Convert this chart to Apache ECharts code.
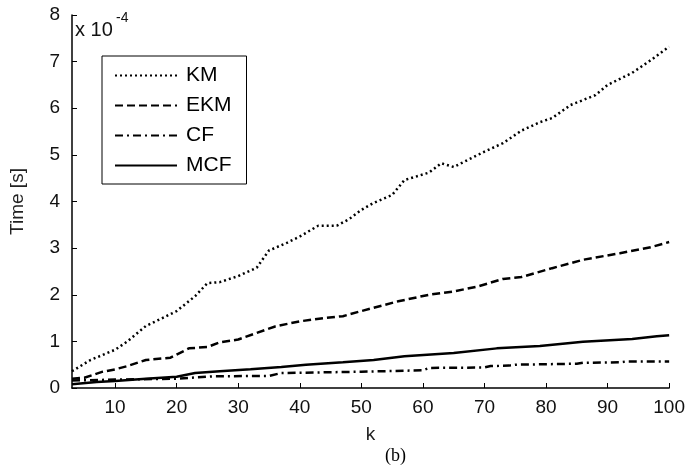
<!DOCTYPE html>
<html>
<head>
<meta charset="utf-8">
<script src="https://cdn.jsdelivr.net/npm/echarts@6/dist/echarts.min.js"></script>
<style>
  html, body { margin: 0; padding: 0; background: #fff; }
  #chart { width: 688px; height: 472px; }
</style>
</head>
<body>
<div id="chart"></div>
<script>
// values in units of 1e-4 s as [k, time]
const kmData = [[3,0.36],[6,0.6],[10,0.82],[12,1.0],[15,1.33],[18,1.52],[20,1.65],[23,1.97],[25,2.25],[27,2.27],[30,2.4],[33,2.58],[35,2.95],[38,3.12],[40,3.25],[43,3.48],[46,3.48],[48,3.62],[50,3.82],[52,3.97],[55,4.14],[57,4.46],[61,4.62],[63,4.82],[65,4.74],[70,5.07],[73,5.25],[76,5.52],[79,5.7],[81,5.79],[84,6.07],[88,6.28],[90,6.5],[94,6.76],[97,7.03],[100,7.32]];
const ekmData = [[3,0.2],[5,0.22],[8,0.35],[10,0.4],[12,0.47],[15,0.6],[19,0.65],[22,0.85],[25,0.88],[27,0.98],[30,1.04],[33,1.18],[36,1.32],[40,1.43],[44,1.5],[47,1.54],[50,1.65],[52,1.72],[56,1.86],[61,2.0],[65,2.07],[69,2.18],[73,2.34],[76,2.38],[81,2.57],[86,2.75],[92,2.89],[97,3.02],[100,3.13]];
const cfData = [[3,0.16],[10,0.18],[20,0.2],[26,0.25],[35,0.26],[37,0.32],[50,0.35],[60,0.38],[61,0.43],[70,0.44],[71,0.47],[74,0.48],[75,0.5],[85,0.52],[86,0.54],[92,0.55],[93,0.57],[100,0.57]];
const mcfData = [[3,0.08],[7,0.13],[10,0.15],[15,0.2],[20,0.24],[23,0.32],[27,0.36],[32,0.4],[37,0.45],[41,0.5],[47,0.55],[52,0.6],[57,0.68],[65,0.75],[72,0.85],[79,0.9],[86,0.99],[94,1.05],[98,1.11],[100,1.13]];
const xTicks = [10, 20, 30, 40, 50, 60, 70, 80, 90, 100];
const names = ['KM', 'EKM', 'CF', 'MCF'];

const font = 'Arial, "Liberation Sans", sans-serif';
const chart = echarts.init(document.getElementById('chart'));

function line(name, data, type) {
  return {
    name: name,
    type: 'line',
    data: data,
    symbol: 'none',
    color: '#000',
    itemStyle: { color: '#000' },
    lineStyle: { color: '#000', width: 2.5, type: type }
  };
}

chart.setOption({
  backgroundColor: '#fff',
  animation: false,
  grid: { left: 62, right: 15, top: 15, bottom: 84 },
  legend: {
    data: names,
    orient: 'vertical',
    left: 102,
    top: 56,
    padding: [9, 15, 8, 12],
    itemWidth: 62,
    itemHeight: 21,
    itemGap: 9,
    borderColor: '#000',
    borderWidth: 1,
    itemStyle: { opacity: 0 },
    textStyle: { fontFamily: font, fontSize: 21, lineHeight: 21, color: '#000', padding: [0, 0, 0, 4] }
  },
  xAxis: {
    type: 'value',
    min: 3,
    max: 100,
    name: 'k',
    nameLocation: 'middle',
    nameGap: 37,
    nameTextStyle: { fontFamily: font, fontSize: 19, color: '#222' },
    splitLine: { show: false },
    axisLine: { lineStyle: { color: '#000', width: 1.5 } },
    axisTick: { inside: true, length: 5, customValues: xTicks, lineStyle: { color: '#000' } },
    axisLabel: { customValues: xTicks, margin: 10, fontFamily: font, fontSize: 19, color: '#111' }
  },
  yAxis: {
    type: 'value',
    min: 0,
    max: 8,
    interval: 1,
    name: 'Time [s]',
    nameLocation: 'middle',
    nameGap: 45,
    nameTextStyle: { fontFamily: font, fontSize: 19, color: '#222' },
    splitLine: { show: false },
    axisLine: { show: true, lineStyle: { color: '#000', width: 1.5 } },
    axisTick: { show: true, inside: true, length: 5, lineStyle: { color: '#000' } },
    axisLabel: { margin: 12, fontFamily: font, fontSize: 19, color: '#111' }
  },
  graphic: [
    { type: 'text', left: 75, top: 20, style: { text: 'x 10', font: '20px ' + font, fill: '#111' } },
    { type: 'text', left: 116, top: 11, style: { text: '-4', font: '14px ' + font, fill: '#111' } },
    { type: 'text', left: 385, top: 447, style: { text: '(b)', font: '18px "Liberation Serif", "Times New Roman", serif', fill: '#000' } }
  ],
  series: [
    line('KM', kmData, [2, 3]),
    line('EKM', ekmData, [8, 4]),
    line('CF', cfData, [8, 4, 2, 4]),
    line('MCF', mcfData, 'solid')
  ]
});
</script>
</body>
</html>
